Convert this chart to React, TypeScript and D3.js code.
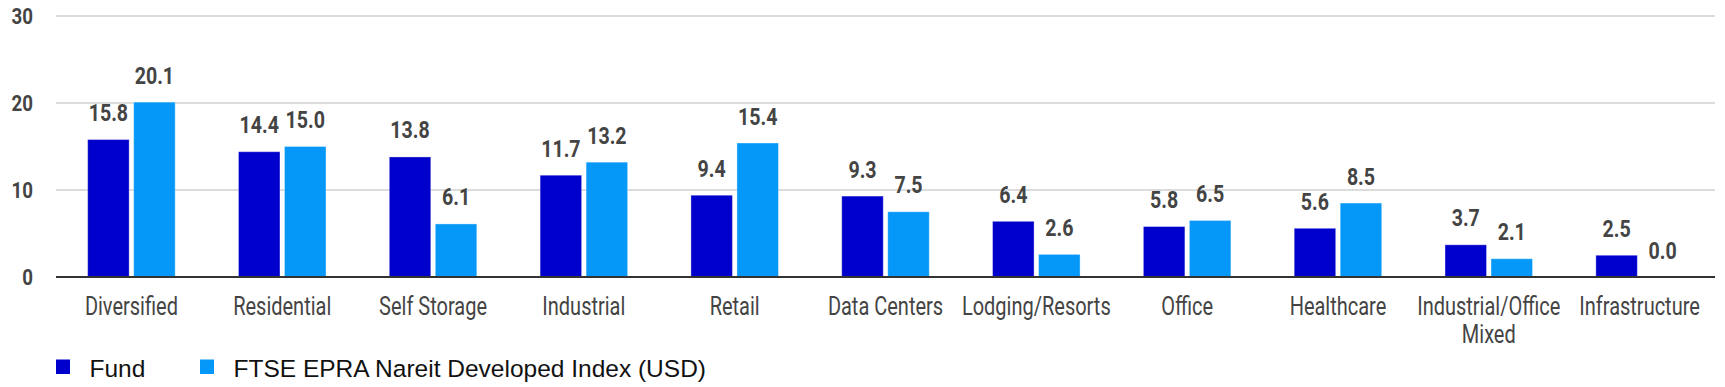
import React from 'react';
import * as d3 from 'd3';

const categories = [
  ['Diversified'],
  ['Residential'],
  ['Self Storage'],
  ['Industrial'],
  ['Retail'],
  ['Data Centers'],
  ['Lodging/Resorts'],
  ['Office'],
  ['Healthcare'],
  ['Industrial/Office', 'Mixed'],
  ['Infrastructure'],
];
const fundValues = [15.8, 14.4, 13.8, 11.7, 9.4, 9.3, 6.4, 5.8, 5.6, 3.7, 2.5];
const indexValues = [20.1, 15.0, 6.1, 13.2, 15.4, 7.5, 2.6, 6.5, 8.5, 2.1, 0.0];
const yTicks = [0, 10, 20, 30];
const seriesNames = ['Fund', 'FTSE EPRA Nareit Developed Index (USD)'];
const seriesColors = ['#0000cc', '#0598f8'];

const W = 1725;
const H = 387;

export default function App() {
  const keys = categories.map(c => c.join(' '));
  const x = d3.scaleBand<string>().domain(keys).range([56, 1715]);
  const sub = d3.scaleBand<string>()
    .domain(['0', '1'])
    .range([0, x.bandwidth()])
    .paddingInner(0.098)
    .paddingOuter(0.688);
  const y = d3.scaleLinear().domain([0, 30]).range([277, 16]);

  // glyphs in the original are narrower than Roboto
  const squeeze = 0.8;

  return (
    <svg width={W} height={H} style={{ position: 'absolute', left: 0, top: 0, background: '#fff' }}>
      {/* gridlines */}
      {yTicks.filter(t => t > 0).map(t => (
        <line key={t} x1={56} x2={1715} y1={y(t)} y2={y(t)} stroke="#d0d0d0" strokeWidth={1.5} />
      ))}
      {yTicks.map(t => (
        <text
          key={t}
          transform={`translate(33,${y(t)}) scale(0.85,1)`}
          textAnchor="end"
          dominantBaseline="central"
          fontFamily="Roboto"
          fontWeight="bold"
          fontSize={22}
          fill="#444"
        >
          {t}
        </text>
      ))}

      {/* bars */}
      {keys.map((k, i) => {
        const vals = [fundValues[i], indexValues[i]];
        return (
          <g key={k} transform={`translate(${x(k)},0)`}>
            {vals.map((v, j) => {
              const bx = sub(String(j))!;
              const bw = sub.bandwidth();
              return (
                <g key={j}>
                  {v > 0 && (
                    <rect
                      x={bx}
                      y={y(v)}
                      width={bw}
                      height={y(0) - y(v)}
                      fill={seriesColors[j]}
                      stroke="rgba(255,255,255,0.35)"
                      strokeWidth={1}
                    />
                  )}
                  <text
                    transform={`translate(${bx + bw / 2},${y(v) - 18.5}) scale(${squeeze},1)`}
                    textAnchor="middle"
                    fontFamily="Roboto"
                    fontWeight="bold"
                    fontSize={24.5}
                    fill="#444"
                  >
                    {v.toFixed(1)}
                  </text>
                </g>
              );
            })}
            {categories[i].map((line, li) => (
              <text
                key={li}
                transform={`translate(${x.bandwidth() / 2},${315 + li * 28.3}) scale(${squeeze},1)`}
                textAnchor="middle"
                fontFamily="Roboto"
                fontSize={25}
                fill="#444"
              >
                {line}
              </text>
            ))}
          </g>
        );
      })}

      {/* zero line */}
      <line x1={56} x2={1715} y1={y(0)} y2={y(0)} stroke="#333" strokeWidth={2} />

      {/* legend */}
      {seriesNames.map((name, i) => {
        const lx = i === 0 ? 56 : 200;
        return (
          <g key={name} transform={`translate(${lx},0)`}>
            <rect x={0} y={359.5} width={14} height={14.5} fill={seriesColors[i]} />
            <text x={33.5} y={376.5} fontFamily="Liberation Sans, Arial" fontSize={24.5} fill="#111">
              {name}
            </text>
          </g>
        );
      })}
    </svg>
  );
}
